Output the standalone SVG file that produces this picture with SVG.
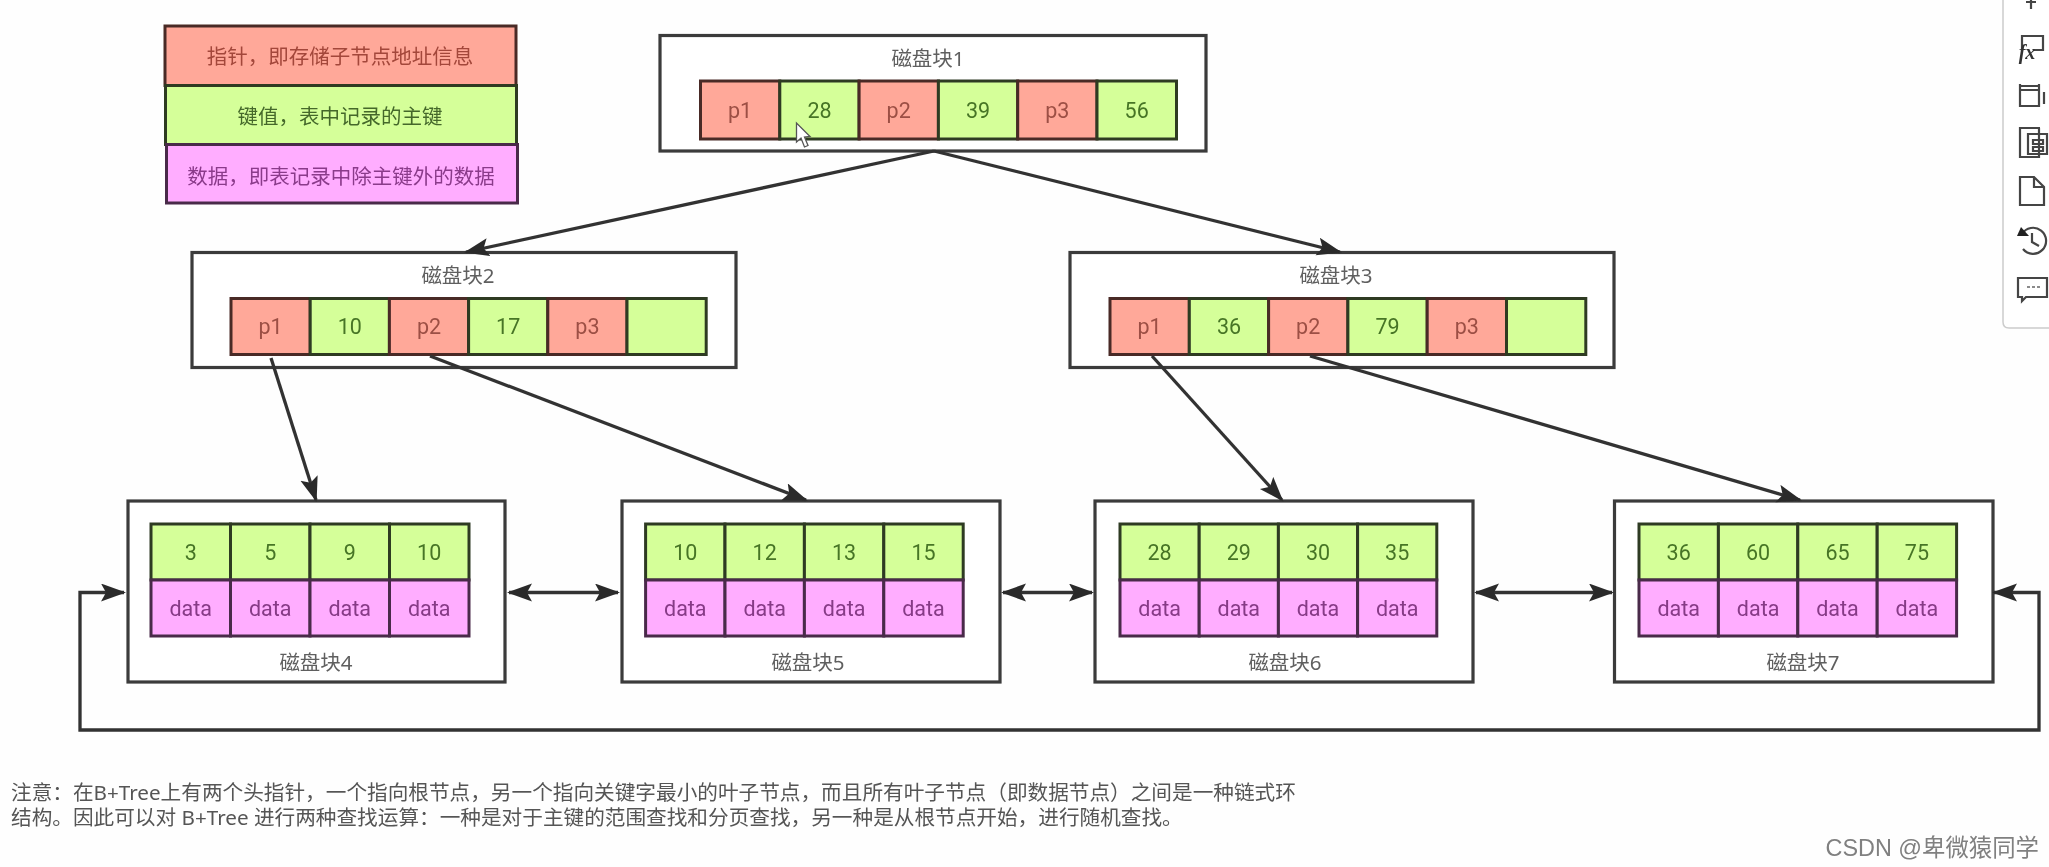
<svg xmlns="http://www.w3.org/2000/svg" width="2049" height="867" viewBox="0 0 2049 867">
<style>
text{font-family:"Noto Sans","Noto Sans CJK SC",sans-serif;font-size:20.500px;text-anchor:middle;dominant-baseline:central}
.box{fill:#fff;stroke:#3a3a3a;stroke-width:3.2}
.r,.g,.m{stroke-width:3}
.r{fill:#ffa899;stroke:#4a2a26}
.g{fill:#d5ff99;stroke:#2f3a24}
.m{fill:#ffadff;stroke:#4a2a4a}
.tr,.tg,.tm{font-family:Roboto,"Noto Sans",sans-serif;font-size:21.5px}
.tr{fill:#9c4f44}.tg{fill:#477526}.tm{fill:#863a86}
.lb{fill:#5f5f5f}
.lr{fill:#a3473a}.lg{fill:#44682a}.lm{fill:#8a3a8a}
.leg{font-size:20.5px}
.c{fill:none;stroke:#333;stroke-width:3.3}
.note{fill:#555;text-anchor:start;font-size:20.650px}
.ic{fill:none;stroke:#444;stroke-width:2.2}
</style>
<defs>
<marker id="a" markerUnits="userSpaceOnUse" markerWidth="26" markerHeight="20" refX="23" refY="9" orient="auto-start-reverse"><path d="M25 9L0 0L5 9L0 18Z" fill="#2c2c2c"/></marker>
<filter id="soft" x="0" y="0" width="2049" height="867" filterUnits="userSpaceOnUse"><feGaussianBlur stdDeviation="0.55"/></filter>
</defs>
<rect width="2049" height="867" fill="#fefefe"/>
<g filter="url(#soft)">
<g id="legend">
<rect class="r" x="165" y="26" width="351" height="59.500"/><text class="lr leg" x="340" y="56">指针&#xFF0C;即存储子节点地址信息</text>
<rect class="g" x="165.500" y="85.500" width="351" height="59"/><text class="lg leg" x="340" y="116">键值&#xFF0C;表中记录的主键</text>
<rect class="m" x="166.500" y="144.500" width="351" height="58.500"/><text class="lm leg" x="341" y="175.500">数据&#xFF0C;即表记录中除主键外的数据</text>
</g>
<g id="block1">
<rect class="box" x="660" y="35.500" width="546" height="115.500"/><text class="lb" x="928" y="58">磁盘块1</text>
<rect class="r" x="700.500" y="81" width="79.300" height="58"/><text class="tr" x="740" y="110">p1</text>
<rect class="g" x="779.800" y="81" width="79.300" height="58"/><text class="tg" x="819.500" y="110">28</text>
<rect class="r" x="859.100" y="81" width="79.300" height="58"/><text class="tr" x="898.700" y="110">p2</text>
<rect class="g" x="938.400" y="81" width="79.300" height="58"/><text class="tg" x="978" y="110">39</text>
<rect class="r" x="1017.700" y="81" width="79.300" height="58"/><text class="tr" x="1057.300" y="110">p3</text>
<rect class="g" x="1097" y="81" width="79.500" height="58"/><text class="tg" x="1136.700" y="110">56</text>
</g>
<g id="block2">
<rect class="box" x="192" y="252.500" width="544" height="115"/><text class="lb" x="458" y="275">磁盘块2</text>
<rect class="r" x="231" y="298.500" width="79.200" height="56"/><text class="tr" x="270.600" y="326.500">p1</text>
<rect class="g" x="310.200" y="298.500" width="79.200" height="56"/><text class="tg" x="349.800" y="326.500">10</text>
<rect class="r" x="389.400" y="298.500" width="79.200" height="56"/><text class="tr" x="429" y="326.500">p2</text>
<rect class="g" x="468.600" y="298.500" width="79.200" height="56"/><text class="tg" x="508.200" y="326.500">17</text>
<rect class="r" x="547.800" y="298.500" width="79.200" height="56"/><text class="tr" x="587.400" y="326.500">p3</text>
<rect class="g" x="627" y="298.500" width="79.200" height="56"/>
</g>
<g id="block3">
<rect class="box" x="1070" y="252.500" width="544" height="115"/><text class="lb" x="1336" y="275">磁盘块3</text>
<rect class="r" x="1110" y="298.500" width="79.300" height="56"/><text class="tr" x="1149.600" y="326.500">p1</text>
<rect class="g" x="1189.300" y="298.500" width="79.300" height="56"/><text class="tg" x="1229" y="326.500">36</text>
<rect class="r" x="1268.600" y="298.500" width="79.300" height="56"/><text class="tr" x="1308.200" y="326.500">p2</text>
<rect class="g" x="1347.900" y="298.500" width="79.300" height="56"/><text class="tg" x="1387.500" y="326.500">79</text>
<rect class="r" x="1427.200" y="298.500" width="79.300" height="56"/><text class="tr" x="1466.800" y="326.500">p3</text>
<rect class="g" x="1506.500" y="298.500" width="79.300" height="56"/>
</g>
<g id="block4">
<rect class="box" x="128" y="501" width="377" height="181"/><text class="lb" x="316" y="662">磁盘块4</text>
<rect class="g" x="151" y="524" width="79.500" height="56"/><text class="tg" x="190.700" y="552">3</text>
<rect class="g" x="230.500" y="524" width="79.500" height="56"/><text class="tg" x="270.200" y="552">5</text>
<rect class="g" x="310" y="524" width="79.500" height="56"/><text class="tg" x="349.700" y="552">9</text>
<rect class="g" x="389.500" y="524" width="79.500" height="56"/><text class="tg" x="429.200" y="552">10</text>
<rect class="m" x="151" y="580" width="79.500" height="56"/><text class="tm" x="190.700" y="608">data</text>
<rect class="m" x="230.500" y="580" width="79.500" height="56"/><text class="tm" x="270.200" y="608">data</text>
<rect class="m" x="310" y="580" width="79.500" height="56"/><text class="tm" x="349.700" y="608">data</text>
<rect class="m" x="389.500" y="580" width="79.500" height="56"/><text class="tm" x="429.200" y="608">data</text>
</g>
<g id="block5">
<rect class="box" x="622" y="501" width="378" height="181"/><text class="lb" x="808" y="662">磁盘块5</text>
<rect class="g" x="645.600" y="524" width="79.400" height="56"/><text class="tg" x="685.300" y="552">10</text>
<rect class="g" x="725" y="524" width="79.400" height="56"/><text class="tg" x="764.700" y="552">12</text>
<rect class="g" x="804.400" y="524" width="79.400" height="56"/><text class="tg" x="844.100" y="552">13</text>
<rect class="g" x="883.800" y="524" width="79.400" height="56"/><text class="tg" x="923.500" y="552">15</text>
<rect class="m" x="645.600" y="580" width="79.400" height="56"/><text class="tm" x="685.300" y="608">data</text>
<rect class="m" x="725" y="580" width="79.400" height="56"/><text class="tm" x="764.700" y="608">data</text>
<rect class="m" x="804.400" y="580" width="79.400" height="56"/><text class="tm" x="844.100" y="608">data</text>
<rect class="m" x="883.800" y="580" width="79.400" height="56"/><text class="tm" x="923.500" y="608">data</text>
</g>
<g id="block6">
<rect class="box" x="1095" y="501" width="378" height="181"/><text class="lb" x="1285" y="662">磁盘块6</text>
<rect class="g" x="1120" y="524" width="79.200" height="56"/><text class="tg" x="1159.600" y="552">28</text>
<rect class="g" x="1199.200" y="524" width="79.200" height="56"/><text class="tg" x="1238.800" y="552">29</text>
<rect class="g" x="1278.400" y="524" width="79.200" height="56"/><text class="tg" x="1318" y="552">30</text>
<rect class="g" x="1357.600" y="524" width="79.200" height="56"/><text class="tg" x="1397.200" y="552">35</text>
<rect class="m" x="1120" y="580" width="79.200" height="56"/><text class="tm" x="1159.600" y="608">data</text>
<rect class="m" x="1199.200" y="580" width="79.200" height="56"/><text class="tm" x="1238.800" y="608">data</text>
<rect class="m" x="1278.400" y="580" width="79.200" height="56"/><text class="tm" x="1318" y="608">data</text>
<rect class="m" x="1357.600" y="580" width="79.200" height="56"/><text class="tm" x="1397.200" y="608">data</text>
</g>
<g id="block7">
<rect class="box" x="1614.500" y="501" width="378.500" height="181"/><text class="lb" x="1803" y="662">磁盘块7</text>
<rect class="g" x="1639" y="524" width="79.400" height="56"/><text class="tg" x="1678.700" y="552">36</text>
<rect class="g" x="1718.400" y="524" width="79.400" height="56"/><text class="tg" x="1758.100" y="552">60</text>
<rect class="g" x="1797.800" y="524" width="79.400" height="56"/><text class="tg" x="1837.500" y="552">65</text>
<rect class="g" x="1877.200" y="524" width="79.400" height="56"/><text class="tg" x="1916.900" y="552">75</text>
<rect class="m" x="1639" y="580" width="79.400" height="56"/><text class="tm" x="1678.700" y="608">data</text>
<rect class="m" x="1718.400" y="580" width="79.400" height="56"/><text class="tm" x="1758.100" y="608">data</text>
<rect class="m" x="1797.800" y="580" width="79.400" height="56"/><text class="tm" x="1837.500" y="608">data</text>
<rect class="m" x="1877.200" y="580" width="79.400" height="56"/><text class="tm" x="1916.900" y="608">data</text>
</g>
<g id="connectors">
<path class="c" marker-end="url(#a)" d="M934 151L466 252"/>
<path class="c" marker-end="url(#a)" d="M934 151L1340 252"/>
<path class="c" marker-end="url(#a)" d="M271 358L316 500"/>
<path class="c" marker-end="url(#a)" d="M430 356L806 500"/>
<path class="c" marker-end="url(#a)" d="M1152 356L1282 500"/>
<path class="c" marker-end="url(#a)" d="M1310 356L1800 500"/>
<path class="c" marker-start="url(#a)" marker-end="url(#a)" d="M509 592.500H618"/>
<path class="c" marker-start="url(#a)" marker-end="url(#a)" d="M1003 592.500H1092"/>
<path class="c" marker-start="url(#a)" marker-end="url(#a)" d="M1476 592.500H1612"/>
<path class="c" marker-start="url(#a)" marker-end="url(#a)" d="M124 592.500H80V730H2039V592.500H1994"/>
</g>
<path d="M796.500 123L796.500 142L801 138L804.500 147L808 145.500L804.500 137L810 136.500Z" fill="#fff" stroke="#555" stroke-width="1.3"/>
<text class="note" x="11" y="792">注意&#xFF1A;在B+Tree上有两个头指针&#xFF0C;一个指向根节点&#xFF0C;另一个指向关键字最小的叶子节点&#xFF0C;而且所有叶子节点&#xFF08;即数据节点&#xFF09;之间是一种链式环</text>
<text class="note" x="11" y="817">结构。因此可以对 B+Tree 进行两种查找运算&#xFF1A;一种是对于主键的范围查找和分页查找&#xFF0C;另一种是从根节点开始&#xFF0C;进行随机查找。</text>
<text x="2039" y="848" style="text-anchor:end;fill:#808080;font-family:'Liberation Sans','Noto Sans CJK SC',sans-serif;font-size:23.400px">CSDN @卑微猿同学</text>
<g id="toolbar">
<path d="M2049 -2H2004Q2003 -2 2003 0V322Q2003 328 2009 328H2049" fill="#fff" stroke="#ccc" stroke-width="1.5"/>
<path class="ic" d="M2031 0V9M2026 2H2036" stroke-width="3"/>
<path class="ic" d="M2022 51V36H2043V50H2034"/>
<text x="2027" y="52" style="font-size:20px;font-style:italic;font-weight:bold;font-family:'Liberation Serif',serif;fill:#333">fx</text>
<path class="ic" d="M2020 90H2039V106H2020ZM2020 90V84M2039 90V84M2021 86H2038M2044 92V104"/>
<path class="ic" d="M2040 128H2020V157H2039V128M2028 134H2047V154H2028ZM2033 140H2043V144H2033ZM2033 147H2043V151H2033Z"/>
<path class="ic" d="M2020 177H2034L2044 187V205H2020ZM2034 177V187H2044"/>
<path class="ic" d="M2022 234A13 13 0 1 1 2023 249M2032 233V242L2039 246" stroke="#222" stroke-width="3"/>
<path d="M2017 236H2029L2021 227Z" fill="#222"/>
<path class="ic" d="M2018 278H2047V297H2026L2022 301V297H2018Z"/>
<path d="M2027 287H2030M2032 287H2035M2037 287H2040" stroke="#666" stroke-width="1.5"/>
</g>
</g>
</svg>
